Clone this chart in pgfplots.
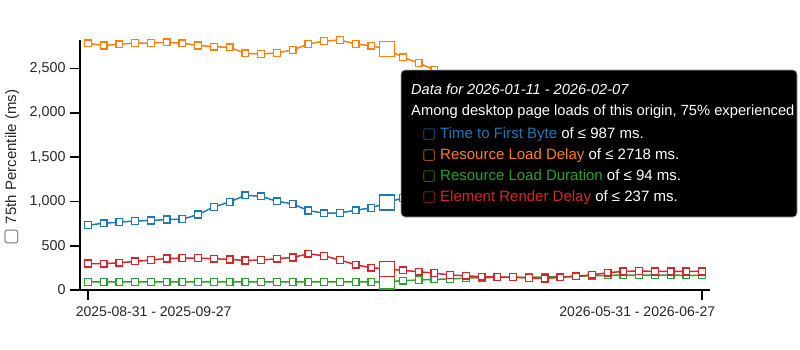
\documentclass[border=0pt]{standalone}
\usepackage{pgfplots}
\pgfplotsset{compat=1.18}
\usepackage{pgfplotstable}
\usepackage{fontspec}
\setmainfont{Liberation Sans}
\newfontfamily\dejavu{DejaVu Sans}
\definecolor{c1}{HTML}{1F77B4}
\definecolor{c2}{HTML}{FF7F0E}
\definecolor{c3}{HTML}{2CA02C}
\definecolor{c4}{HTML}{D62728}

\pgfplotstableread{
i ttfb rld dur erd
0 732 2785 92 300
1 754 2762 91 296
2 766 2774 91 308
3 780 2789 91 323
4 784 2789 91 338
5 796 2796 91 356
6 800 2785 91 360
7 852 2762 91 360
8 938 2747 91 353
9 994 2740 91 345
10 1070 2672 91 334
11 1058 2665 91 338
12 1002 2677 91 353
13 972 2710 91 368
14 897 2778 91 409
15 867 2811 91 386
16 870 2823 91 338
17 901 2778 91 285
18 927 2759 91 251
19 987 2718 94 237
20 1040 2627 105 222
21 1075 2563 113 206
22 1090 2485 120 191
23 1100 2400 124 169
24 1110 2350 135 161
25 1120 2300 139 150
26 1105 2280 143 146
27 1095 2250 143 146
28 1090 2230 143 135
29 1100 2200 146 131
30 1115 2180 150 143
31 1130 2150 154 154
32 1140 2120 161 172
33 1150 2100 165 195
34 1160 2080 169 210
35 1150 2060 169 214
36 1145 2050 169 210
37 1150 2040 169 210
38 1160 2030 165 210
39 1155 2020 165 210
}\data

\pgfplotsset{
  ser/.style={#1, line width=1.5pt, mark=square*, mark size=3.4pt,
    mark options={fill=white, solid, line width=1.4pt}},
  big/.style={#1, only marks, mark=square*, mark size=7.5pt,
    mark options={fill=white, solid, line width=1.4pt},
    restrict x to domain=19:19},
}

\begin{document}
\begin{tikzpicture}
\path[use as bounding box] (0pt,0pt) rectangle (800pt,349pt);
\begin{axis}[
  at={(80pt,59pt)}, anchor=south west,
  scale only axis, width=630pt, height=250pt,
  xmin=-0.5, xmax=39.5, ymin=0, ymax=2823,
  clip=false,
  axis lines=left,
  axis line style={-, line width=1.6pt, black},
  tick align=outside,
  major tick length=10pt,
  tick style={line width=1.6pt, black},
  xtick={0,39},
  xticklabels={\makebox[0pt][l]{\hspace*{-12pt}2025-08-31 - 2025-09-27},\makebox[0pt][r]{2026-05-31 - 2026-06-27\hspace*{-13pt}}},
  ytick={0,500,1000,1500,2000,2500},
  /pgf/number format/assume math mode=true,
  /pgf/number format/1000 sep={,},
  yticklabel style={font=\fontsize{14.3}{16}\selectfont, color=black!85, xshift=-1pt},
  xticklabel style={font=\fontsize{14}{16}\selectfont, color=black!85, yshift=-3pt},
  ylabel={{\fontsize{18}{18}\selectfont\dejavu\color{black!55}\char"25A2}\ 75th Percentile (ms)},
  ylabel style={at={(axis description cs:-0.108,0.49)}, anchor=center,
    font=\fontsize{15}{18}\selectfont, color=black!85},
]
\addplot[ser=c1] table[x=i,y=ttfb]{\data};
\addplot[ser=c2] table[x=i,y=rld]{\data};
\addplot[ser=c3] table[x=i,y=dur]{\data};
\addplot[ser=c4] table[x=i,y=erd]{\data};
\addplot[big=c1] table[x=i,y=ttfb]{\data};
\addplot[big=c2] table[x=i,y=rld]{\data};
\addplot[big=c3] table[x=i,y=dur]{\data};
\addplot[big=c4] table[x=i,y=erd]{\data};
\end{axis}
% tooltip
\fill[black, rounded corners=4pt] (401pt,132pt) rectangle (797pt,279pt);
\draw[black!35, rounded corners=4pt, line width=0.6pt] (401pt,132pt) rectangle (797pt,279pt);
\tikzset{tt/.style={anchor=base west, inner sep=0pt, text=white, font=\fontsize{15}{17}\selectfont}}
\node[tt, font=\fontsize{14.6}{17}\selectfont\itshape] at (411pt,254.7pt) {Data for 2026-01-11 - 2026-02-07};
\node[tt, font=\fontsize{14.7}{17}\selectfont] at (411pt,233.7pt) {Among desktop page loads of this origin, 75\% experienced};
\node[tt] at (440pt,210.7pt) {\textcolor{c1}{Time to First Byte} of ≤ 987 ms.};
\node[tt] at (440pt,189.4pt) {\textcolor{c2}{Resource Load Delay} of ≤ 2718 ms.};
\node[tt] at (440pt,168.7pt) {\textcolor{c3}{Resource Load Duration} of ≤ 94 ms.};
\node[tt] at (440pt,147.7pt) {\textcolor{c4}{Element Render Delay} of ≤ 237 ms.};
\node[tt, font=\fontsize{15}{17}\selectfont\dejavu, text=c1!75!black] at (422pt,210.7pt) {\char"25A2};
\node[tt, font=\fontsize{15}{17}\selectfont\dejavu, text=c2!75!black] at (422pt,189.4pt) {\char"25A2};
\node[tt, font=\fontsize{15}{17}\selectfont\dejavu, text=c3!75!black] at (422pt,168.7pt) {\char"25A2};
\node[tt, font=\fontsize{15}{17}\selectfont\dejavu, text=c4!75!black] at (422pt,147.7pt) {\char"25A2};
\end{tikzpicture}
\end{document}
